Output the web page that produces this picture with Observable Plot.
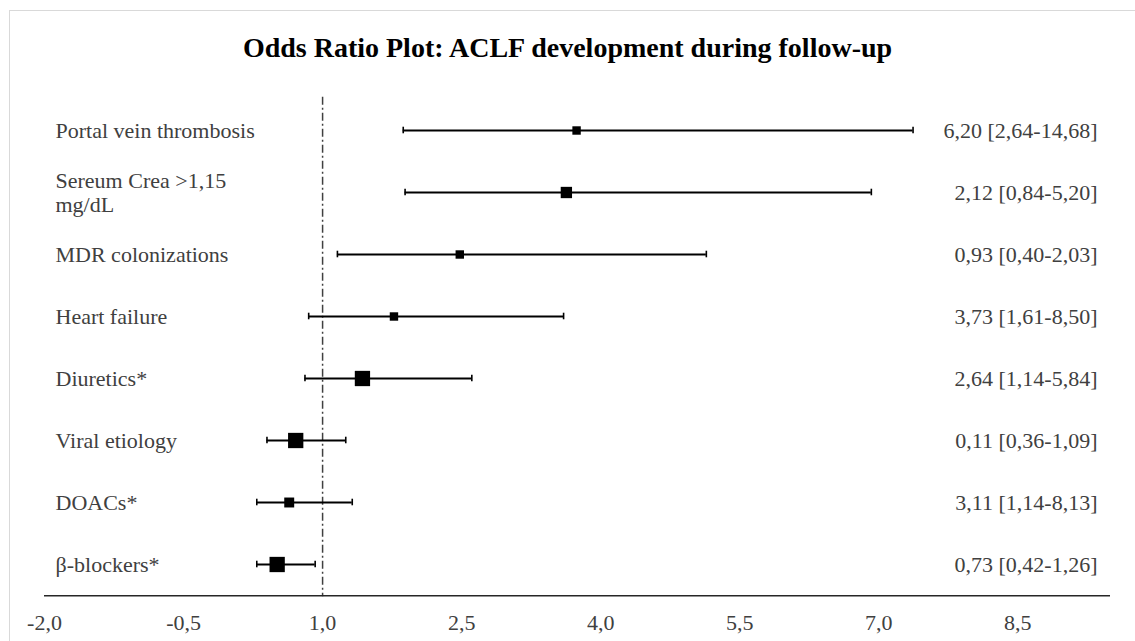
<!DOCTYPE html>
<html>
<head>
<meta charset="utf-8">
<script src="https://cdn.jsdelivr.net/npm/d3@7"></script>
<script src="https://cdn.jsdelivr.net/npm/@observablehq/plot@0.6"></script>
<style>
  html, body { margin: 0; padding: 0; background: #fff; overflow: hidden; }
  #wrap { position: relative; width: 1135px; height: 641px; }
  #border { position: absolute; left: 9px; top: 10px; width: 1200px; height: 700px; border: 1px solid #d9d9d9; box-sizing: border-box; }
  #title { position: absolute; left: 0; top: 0; width: 1135px; height: 80px; line-height: 96px; text-align: center;
           font-family: "Liberation Serif", "Times New Roman", serif; font-weight: bold; font-size: 28px; color: #000; }
  #chart { position: absolute; left: 0; top: 80px; }
</style>
</head>
<body>
<div id="wrap">
  <div id="border"></div>
  <div id="title">Odds Ratio Plot: ACLF development during follow-up</div>
  <div id="chart"></div>
</div>
<script>
const labels = ["Portal vein thrombosis", "Sereum Crea >1,15\nmg/dL", "MDR colonizations", "Heart failure",
                "Diuretics*", "Viral etiology", "DOACs*", "β-blockers*"];
const oddsRatio = [3.74, 3.63, 2.48, 1.77, 1.43, 0.71, 0.64, 0.51];
const lowerCI   = [1.87, 1.89, 1.16, 0.85, 0.81, 0.40, 0.29, 0.29];
const upperCI   = [7.37, 6.92, 5.14, 3.60, 2.61, 1.25, 1.32, 0.92];
const weight    = [0.55, 0.74, 0.55, 0.55, 1.0, 1.0, 0.65, 1.0];
const ciText    = ["6,20 [2,64-14,68]", "2,12 [0,84-5,20]", "0,93 [0,40-2,03]", "3,73 [1,61-8,50]",
                   "2,64 [1,14-5,84]", "0,11 [0,36-1,09]", "3,11 [1,14-8,13]", "0,73 [0,42-1,26]"];
const xTicks    = [-2.0, -0.5, 1.0, 2.5, 4.0, 5.5, 7.0, 8.5];
const refValue  = 1.0;

const rows = labels.map((label, i) => ({label, or: oddsRatio[i], lo: lowerCI[i], hi: upperCI[i], w: weight[i], ci: ciText[i]}));

const H = 561, mT = 16.8, mB = 44.8;
const bw = (H - mT - mB) / labels.length;
const capLen = 7;
const fmt = d => d.toFixed(1).replace(".", ",");
const textColor = "#404040";

const chart = Plot.plot({
  width: 1135,
  height: H,
  marginTop: mT,
  marginBottom: mB,
  marginLeft: 44,
  marginRight: 25,
  style: {fontFamily: "'Liberation Serif', 'Times New Roman', serif", background: "transparent"},
  x: {domain: [-2, 9.5], axis: null},
  y: {domain: labels, type: "band", padding: 0, axis: null},
  r: {type: "linear", domain: [0, 1], range: [0, 8.63]},
  marks: [
    Plot.ruleX([refValue], {stroke: "#404040", strokeWidth: 1.5, strokeDasharray: "8,3,2,3"}),
    Plot.ruleY(rows, {y: "label", x1: "lo", x2: "hi", stroke: "#000", strokeWidth: 2}),
    Plot.tickX(rows, {x: "lo", y: "label", stroke: "#000", strokeWidth: 1.6, insetTop: (bw - capLen) / 2, insetBottom: (bw - capLen) / 2}),
    Plot.tickX(rows, {x: "hi", y: "label", stroke: "#000", strokeWidth: 1.6, insetTop: (bw - capLen) / 2, insetBottom: (bw - capLen) / 2}),
    Plot.dot(rows, {x: "or", y: "label", r: "w", symbol: "square", fill: "#000", stroke: "none"}),
    Plot.text(rows, {y: "label", text: "label", frameAnchor: "left", textAnchor: "start", dx: 11, fontSize: 22, fill: textColor, lineHeight: 1.1}),
    Plot.text(rows, {y: "label", text: "ci", frameAnchor: "right", textAnchor: "end", dx: -13, fontSize: 22, fill: textColor}),
    Plot.ruleY([labels[labels.length - 1]], {dy: bw / 2, stroke: "#262626", strokeWidth: 1.5}),
    Plot.axisX(xTicks, {tickSize: 0, tickPadding: 18, tickFormat: fmt, fontSize: 22, fill: textColor, stroke: null})
  ]
});
document.getElementById("chart").appendChild(chart);
</script>
</body>
</html>
